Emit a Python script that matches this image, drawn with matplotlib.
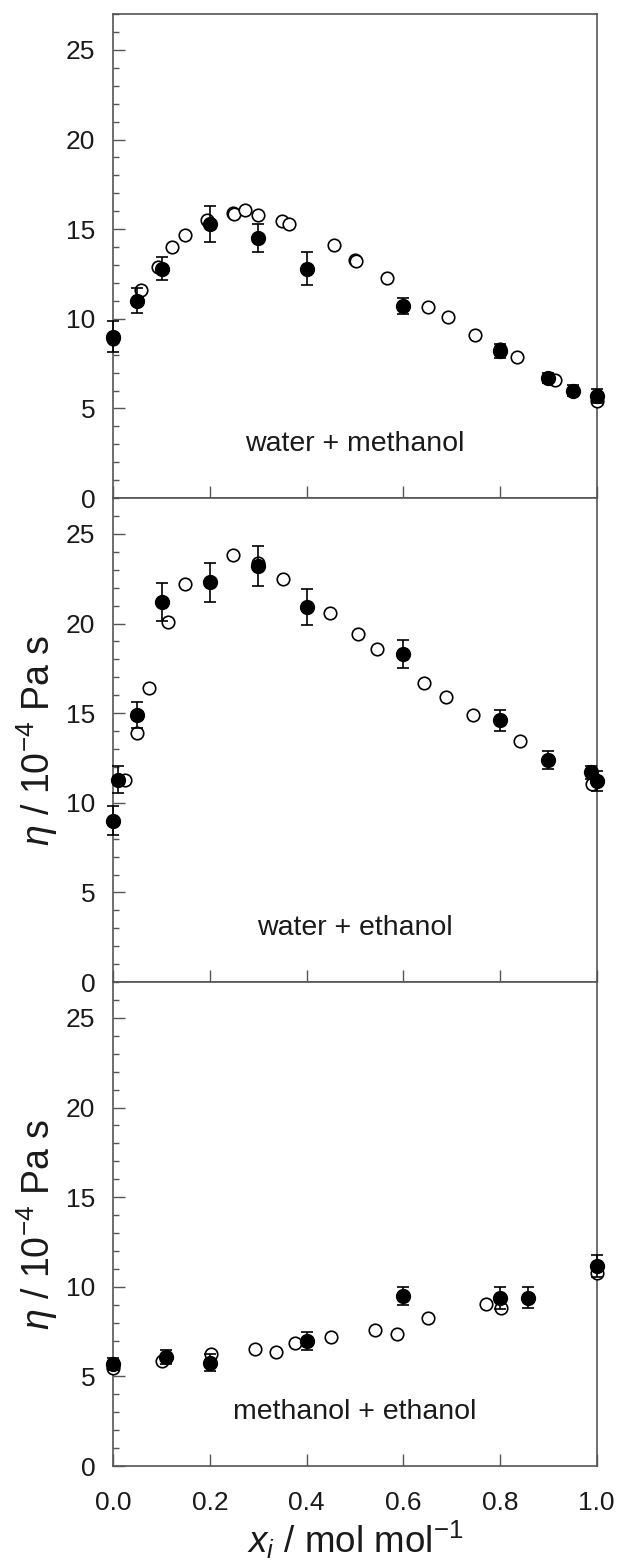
import numpy as np
import matplotlib
matplotlib.use('Agg')
import matplotlib.pyplot as plt
from matplotlib.ticker import MultipleLocator, FormatStrFormatter

plt.rcParams['font.family'] = ['Liberation Sans', 'DejaVu Sans']
plt.rcParams['mathtext.fontset'] = 'custom'
plt.rcParams['mathtext.rm'] = 'Liberation Sans'
plt.rcParams['mathtext.it'] = 'Liberation Sans:italic'

# water + methanol
wm_x_fill = [0.0, 0.05, 0.1, 0.2, 0.3, 0.4, 0.6, 0.8, 0.9, 0.95, 1.0]
wm_y_fill = [9.0, 11.0, 12.8, 15.3, 14.5, 12.8, 10.7, 8.2, 6.7, 6.0, 5.7]
wm_err = [0.85, 0.7, 0.65, 1.0, 0.8, 0.9, 0.45, 0.4, 0.3, 0.3, 0.4]
wm_x_open = [0.0, 0.057, 0.092, 0.122, 0.149, 0.194, 0.247, 0.25, 0.273, 0.30,
             0.35, 0.364, 0.457, 0.50, 0.502, 0.567, 0.651, 0.692, 0.749, 0.80,
             0.835, 0.90, 0.914, 1.0]
wm_y_open = [8.9, 11.6, 12.9, 14.0, 14.7, 15.5, 15.9, 15.85, 16.05, 15.8,
             15.45, 15.3, 14.1, 13.3, 13.2, 12.25, 10.67, 10.1, 9.07, 8.3,
             7.85, 6.7, 6.6, 5.4]

# water + ethanol
we_x_fill = [0.0, 0.01, 0.05, 0.1, 0.2, 0.3, 0.4, 0.6, 0.8, 0.9, 0.988, 1.0]
we_y_fill = [9.0, 11.3, 14.9, 21.2, 22.3, 23.2, 20.9, 18.3, 14.6, 12.4, 11.7, 11.2]
we_err = [0.8, 0.75, 0.75, 1.05, 1.1, 1.1, 1.0, 0.8, 0.6, 0.5, 0.35, 0.55]
we_x_open = [0.025, 0.049, 0.074, 0.114, 0.149, 0.247, 0.30, 0.351, 0.449, 0.506,
             0.545, 0.643, 0.688, 0.745, 0.841, 0.99, 1.0]
we_y_open = [11.3, 13.9, 16.4, 20.1, 22.2, 23.8, 23.4, 22.5, 20.6, 19.4,
             18.6, 16.7, 15.9, 14.9, 13.45, 11.05, 11.2]

# methanol + ethanol
me_x_fill = [0.0, 0.11, 0.2, 0.4, 0.6, 0.8, 0.857, 1.0]
me_y_fill = [5.7, 6.1, 5.76, 6.97, 9.48, 9.39, 9.4, 11.17]
me_err = [0.35, 0.4, 0.48, 0.5, 0.5, 0.6, 0.6, 0.6]
me_x_open = [0.0, 0.101, 0.203, 0.293, 0.337, 0.376, 0.451, 0.541, 0.586, 0.651,
             0.772, 0.802, 1.0]
me_y_open = [5.45, 5.87, 6.25, 6.53, 6.38, 6.88, 7.18, 7.58, 7.36, 8.24,
             9.07, 8.8, 10.75]

panels = [
    ('water + methanol', wm_x_fill, wm_y_fill, wm_err, wm_x_open, wm_y_open),
    ('water + ethanol', we_x_fill, we_y_fill, we_err, we_x_open, we_y_open),
    ('methanol + ethanol', me_x_fill, me_y_fill, me_err, me_x_open, me_y_open),
]

spine_col = '#555555'
text_col = '#1a1a1a'

fig, axes = plt.subplots(3, 1, figsize=(6.19, 15.62), dpi=100, sharex=True)
fig.subplots_adjust(left=0.183, right=0.964, top=0.991, bottom=0.0614, hspace=0)

for i, (ax, (name, xf, yf, ef, xo, yo)) in enumerate(zip(axes, panels)):
    ax.plot(xo, yo, 'o', mfc='white', mec='black', ms=9, mew=1.2,
            clip_on=False, zorder=3)
    ax.errorbar(xf, yf, yerr=ef, fmt='o', color='black', ms=10, elinewidth=1.2,
                capsize=4.5, capthick=1.2, clip_on=False, zorder=4)
    ax.text(0.5, 3.0, name, ha='center', va='center', fontsize=20.5, color=text_col)

    ax.set_xlim(0, 1)
    ax.set_ylim(0, 27)
    ax.xaxis.set_major_locator(MultipleLocator(0.2))
    ax.yaxis.set_major_locator(MultipleLocator(5))
    ax.yaxis.set_minor_locator(MultipleLocator(1))
    ax.tick_params(axis='both', which='major', direction='in', length=8.6,
                   width=1.0, color=spine_col, labelsize=19, labelcolor=text_col)
    ax.tick_params(axis='y', which='major', pad=13)
    ax.tick_params(axis='x', which='major', pad=18)
    ax.tick_params(axis='y', which='minor', direction='in', length=4.3,
                   width=1.0, color=spine_col)
    ax.tick_params(top=False, right=False)
    for sp in ax.spines.values():
        sp.set_color(spine_col)
        sp.set_linewidth(1.2)
    if i > 0:
        ax.set_ylabel(r'$\eta$ / 10$^{-4}$ Pa s', fontsize=27, color=text_col)
        ax.yaxis.set_label_coords(-0.11, 0.5)

axes[-1].xaxis.set_major_formatter(FormatStrFormatter('%.1f'))
axes[-1].set_xlabel(r'$x_i$ / mol mol$^{-1}$', fontsize=26.5, color=text_col, labelpad=3)

plt.savefig('out.png', dpi=100)
